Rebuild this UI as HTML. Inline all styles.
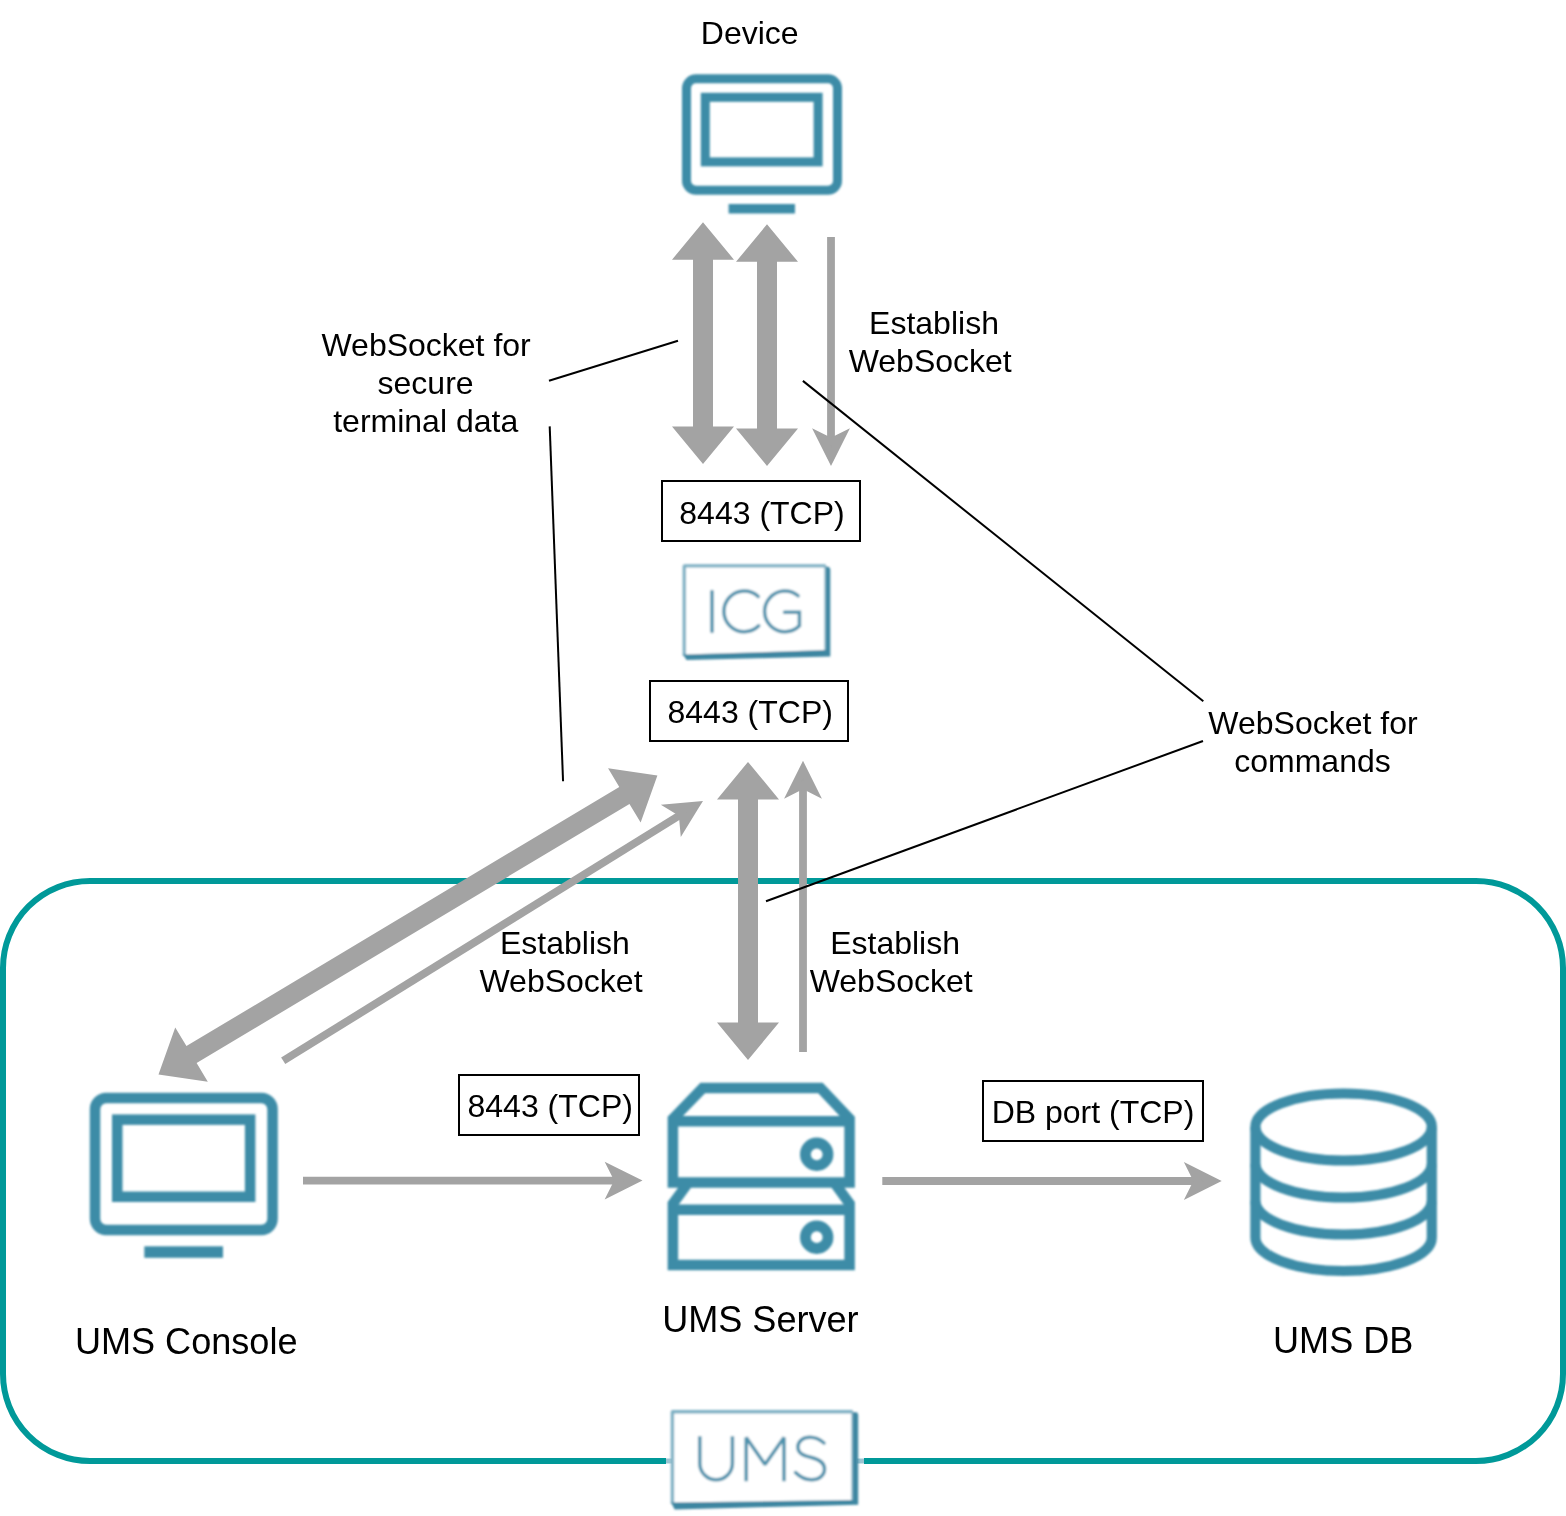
<!DOCTYPE html>
<html>
<head>
<meta charset="utf-8">
<title>ICG WebSocket diagram</title>
<style>
html,body{margin:0;padding:0;background:#ffffff;}
body{width:1566px;height:1516px;overflow:hidden;position:relative;font-family:"Liberation Sans",sans-serif;}
svg{transform:translateZ(0);position:absolute;left:0;top:0;display:block;}
text{font-family:"Liberation Sans",sans-serif;fill:#000;}
.t{font-size:32px;text-anchor:middle;}
.l{font-size:36.1px;text-anchor:middle;}
.g{fill:#a3a3a3;}
.gs{fill:#a3a3a3;stroke:#a3a3a3;stroke-width:7.8;stroke-linejoin:miter;stroke-miterlimit:10;}
.gl{stroke:#a3a3a3;stroke-width:7.8;fill:none;}
.k{stroke:#000;stroke-width:2;fill:none;}
.box{fill:#fff;stroke:#000;stroke-width:2;}
.ic{fill:none;stroke:#3d8ca7;}
</style>
</head>
<body>
<svg width="1566" height="1516" viewBox="0 0 1566 1516">
<defs><filter id="b5" x="-5%" y="-5%" width="110%" height="110%"><feGaussianBlur stdDeviation="0.8"/></filter><filter id="b7" x="-5%" y="-5%" width="110%" height="110%"><feGaussianBlur stdDeviation="0.8"/></filter></defs>
<!-- container -->
<rect x="3" y="881" width="1560" height="580" rx="87" ry="87" fill="none" stroke="#009999" stroke-width="6"/>

<!-- thick double arrows -->
<polygon class="g" points="703.00,222.20 672.00,259.70 693.00,259.70 693.00,426.40 672.00,426.40 703.00,463.90 734.00,426.40 713.00,426.40 713.00,259.70 734.00,259.70"/>
<polygon class="g" points="767.00,224.30 736.00,261.80 757.00,261.80 757.00,428.40 736.00,428.40 767.00,465.90 798.00,428.40 777.00,428.40 777.00,261.80 798.00,261.80"/>
<polygon class="g" points="748.00,761.90 717.00,799.40 738.00,799.40 738.00,1022.50 717.00,1022.50 748.00,1060.00 779.00,1022.50 758.00,1022.50 758.00,799.40 779.00,799.40"/>
<polygon class="g" points="657.40,775.60 608.08,768.19 619.28,786.89 186.44,1046.12 175.24,1027.42 158.50,1074.40 207.82,1081.81 196.62,1063.11 629.46,803.88 640.66,822.58"/>

<!-- thin arrows -->
<line class="gl" x1="831.00" y1="237.00" x2="831.00" y2="441.98" style="stroke-width:7.8"/><polygon class="gs" points="831.00,457.28 820.80,436.88 831.00,441.98 841.20,436.88" style="stroke-width:7.8"/>
<line class="gl" x1="803.00" y1="1052.00" x2="803.00" y2="784.82" style="stroke-width:7.8"/><polygon class="gs" points="803.00,769.52 813.20,789.92 803.00,784.82 792.80,789.92" style="stroke-width:7.8"/>
<line class="gl" x1="283.20" y1="1060.80" x2="682.58" y2="813.54" style="stroke-width:7.8"/><polygon class="gs" points="695.59,805.49 683.61,824.90 682.58,813.54 672.87,807.56" style="stroke-width:7.8"/>
<line class="gl" x1="303.00" y1="1180.60" x2="618.48" y2="1180.60" style="stroke-width:7.8"/><polygon class="gs" points="633.78,1180.60 613.38,1190.80 618.48,1180.60 613.38,1170.40" style="stroke-width:7.8"/>
<line class="gl" x1="882.30" y1="1181.00" x2="1197.68" y2="1181.00" style="stroke-width:7.8"/><polygon class="gs" points="1212.98,1181.00 1192.58,1191.20 1197.68,1181.00 1192.58,1170.80" style="stroke-width:7.8"/>

<!-- black callout lines -->
<g class="k">
<line x1="549" y1="380.8" x2="678" y2="340.7"/>
<line x1="549.7" y1="426.4" x2="563.05" y2="781.2"/>
<line x1="802.9" y1="380.9" x2="1203.3" y2="701.3"/>
<line x1="1203" y1="741.0" x2="766" y2="901.2"/>
</g>

<!-- port boxes -->
<rect class="box" x="662" y="481" width="198" height="60"/>
<rect class="box" x="650" y="681" width="198" height="60"/>
<rect class="box" x="459" y="1075" width="180" height="60"/>
<rect class="box" x="983" y="1081" width="220" height="60"/>

<!-- icons -->
<g filter="url(#b5)"><g class="ic"><rect x="686.50" y="78.80" width="151.00" height="111.50" rx="9.50" ry="9.50" stroke-width="9.00"/><rect x="705.30" y="97.30" width="112.80" height="64.60" stroke-width="9.00"/></g><rect x="728.60" y="204.00" width="66.40" height="9.50" fill="#3d8ca7"/>
<g class="ic"><rect x="95.05" y="1098.05" width="177.50" height="131.90" rx="11.20" ry="11.20" stroke-width="10.50"/><rect x="117.25" y="1119.65" width="132.90" height="77.10" stroke-width="10.50"/></g><rect x="144.30" y="1246.30" width="78.70" height="11.50" fill="#3d8ca7"/>
<g class="ic" stroke-width="10.5" stroke-linejoin="miter"><path d="M672.90,1182.4 L672.90,1118.8 L702.7,1088 L820.4,1088 L849.60,1118.8 L849.60,1182.4 Z"/><line x1="672.90" y1="1121.2" x2="849.60" y2="1121.2"/><path d="M688.00,1183 L672.90,1203.7 L672.90,1264.9 L849.60,1264.9 L849.60,1203.7 L834.50,1183"/><line x1="672.90" y1="1209.7" x2="849.60" y2="1209.7"/><circle cx="816.7" cy="1154.3" r="11.3" stroke-width="10.8"/><circle cx="816.7" cy="1237.2" r="11.3" stroke-width="10.8"/></g>
<g class="ic" stroke-width="10.2"><ellipse cx="1343.6" cy="1127" rx="88.2" ry="33.5"/><path d="M1255.40,1164.00 A88.2,33.5 0 0 0 1431.80,1164.00"/><path d="M1255.40,1201.00 A88.2,33.5 0 0 0 1431.80,1201.00"/><path d="M1255.40,1127 L1255.40,1237.5 A88.2,33.5 0 0 0 1431.80,1237.5 L1431.80,1127"/></g></g>
<g filter="url(#b7)"><polygon points="682.60,564.20 826.30,564.20 826.30,650.00 682.60,654.60" fill="#fff"/><polyline points="684.30,656.10 684.30,565.90 825.80,565.90" fill="none" stroke="#7db0c4" stroke-width="3.4" stroke-linejoin="round"/><line x1="825.30" y1="565.90" x2="825.30" y2="650.00" stroke="#7db0c4" stroke-width="2"/><polygon points="826.00,566.20 829.30,567.30 830.30,569.30 830.30,656.60 686.60,659.90 683.00,654.60 826.00,650.00" fill="#3e86a1"/><g fill="none" stroke="#4f93ad" stroke-width="3.5" stroke-linecap="round"><line x1="712" y1="591.6" x2="712" y2="631.6"/><path d="M758.21,596.48 A20.4,20.4 0 1 0 758.72,625.82"/><path d="M798.11,595.77 A20.4,20.4 0 1 0 799.42,625.82 L799.42,612.3 L784.5,612.3" stroke-linejoin="miter"/></g></g>
<rect x="666" y="1454" width="198" height="14" fill="#fff"/><line x1="666" y1="1461" x2="672" y2="1461" stroke="#9cc4d2" stroke-width="5"/><line x1="857" y1="1461" x2="864" y2="1461" stroke="#9cc4d2" stroke-width="5"/><g filter="url(#b7)"><polygon points="670.70,1410.00 853.30,1410.00 853.30,1499.90 670.70,1502.60" fill="#fff"/><polyline points="672.40,1504.10 672.40,1411.70 852.80,1411.70" fill="none" stroke="#7db0c4" stroke-width="3.4" stroke-linejoin="round"/><line x1="852.30" y1="1411.70" x2="852.30" y2="1499.90" stroke="#7db0c4" stroke-width="2"/><polygon points="853.00,1412.00 857.20,1412.50 858.20,1414.50 858.20,1504.80 674.70,1509.40 671.10,1502.60 853.00,1499.90" fill="#3e86a1"/><g fill="none" stroke="#4f93ad" stroke-width="3.5" stroke-linecap="butt" stroke-linejoin="miter"><path d="M699.8,1436.2 L699.8,1463.4 A16.3,16.3 0 0 0 732.4,1463.4 L732.4,1436.2"/><path d="M746.2,1481.2 L746.2,1437.5 L765,1464.5 L784,1437.5 L784,1481.2" stroke-linejoin="bevel"/><path d="M824,1443 C820,1439.5 815.5,1437.3 810,1437.3 C802.5,1437.3 797.9,1441.5 797.9,1447 C797.9,1453.5 803.5,1455.5 811.5,1457.5 C819.5,1459.5 824.5,1462.5 824.5,1469 C824.5,1475.5 819,1479.7 811.5,1479.7 C805,1479.7 800,1477 795.5,1472.5" stroke-linecap="round"/></g></g>

<!-- text -->
<text class="t" x="749.7" y="44">Device</text>
<text class="t" x="426.1" y="356">WebSocket for</text>
<text class="t" x="425.6" y="394">secure</text>
<text class="t" x="425.7" y="432">terminal data</text>
<text class="t" x="934.0" y="334">Establish</text>
<text class="t" x="930.2" y="372">WebSocket</text>
<text class="t" x="1313.0" y="734">WebSocket for</text>
<text class="t" x="1312.5" y="772">commands</text>
<text class="t" x="564.9" y="954">Establish</text>
<text class="t" x="561" y="992">WebSocket</text>
<text class="t" x="895.1" y="954">Establish</text>
<text class="t" x="891.2" y="992">WebSocket</text>
<text class="t" x="762.0" y="523.6">8443 (TCP)</text>
<text class="t" x="750.2" y="723.4">8443 (TCP)</text>
<text class="t" x="550.2" y="1117.3">8443 (TCP)</text>
<text class="t" x="1093" y="1123.4">DB port (TCP)</text>
<text class="l" x="186.2" y="1354">UMS Console</text>
<text class="l" x="760.4" y="1331.8">UMS Server</text>
<text class="l" x="1343.2" y="1353.4">UMS DB</text>
</svg>
</body>
</html>
